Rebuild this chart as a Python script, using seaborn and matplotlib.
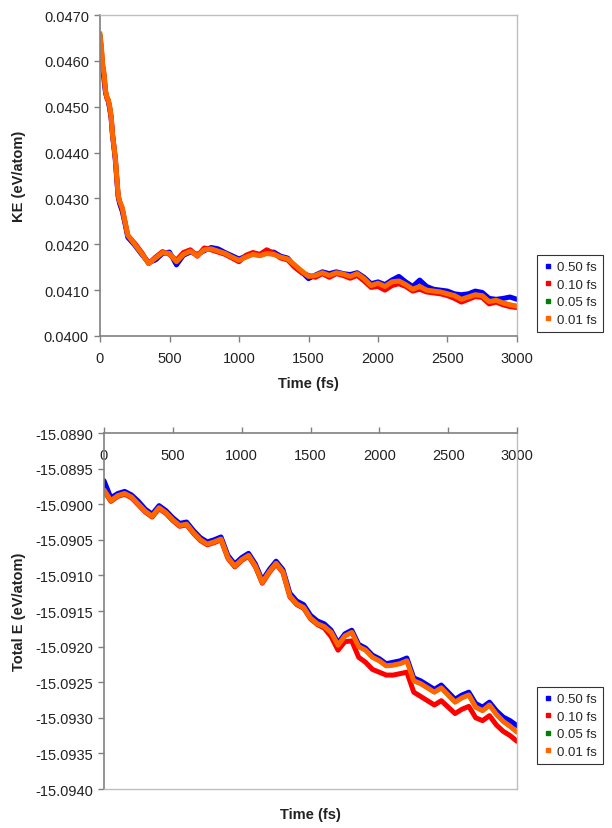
import matplotlib
matplotlib.use("Agg")
import matplotlib.pyplot as plt
import pandas as pd
import seaborn as sns
from matplotlib.lines import Line2D
from matplotlib.ticker import FormatStrFormatter, MultipleLocator

# ---------------- data ----------------
series_labels = ["0.50 fs", "0.10 fs", "0.05 fs", "0.01 fs"]
series_colors = ["#0000FF", "#FF0000", "#008000", "#FF6600"]

x_ticks = [0, 500, 1000, 1500, 2000, 2500, 3000]

ke_time = [0, 10, 20, 30, 40, 50, 60, 70, 80, 90, 100, 110, 120, 130, 140, 160, 180, 200,
           250, 300, 350, 400, 450, 500, 550, 600, 650, 700, 750, 800, 850, 900, 950, 1000,
           1050, 1100, 1150, 1200, 1250, 1300, 1350, 1400, 1450, 1500, 1550, 1600, 1650, 1700,
           1750, 1800, 1850, 1900, 1950, 2000, 2050, 2100, 2150, 2200, 2250, 2300, 2350, 2400,
           2450, 2500, 2550, 2600, 2650, 2700, 2750, 2800, 2850, 2900, 2950, 3000]

ke_050 = [0.04600, 0.04600, 0.04585, 0.04555, 0.04530, 0.04520, 0.04512, 0.04495, 0.04475, 0.04438,
          0.04412, 0.04385, 0.04345, 0.04305, 0.04290, 0.04272, 0.04245, 0.04215,
          0.04198, 0.04178, 0.04160, 0.04166, 0.04180, 0.04183, 0.04155, 0.04176, 0.04183, 0.04178,
          0.04186, 0.04193, 0.04190, 0.04182, 0.04175, 0.04168, 0.04174, 0.04180, 0.04177, 0.04182,
          0.04183, 0.04174, 0.04170, 0.04152, 0.04140, 0.04125, 0.04133, 0.04140, 0.04136, 0.04140,
          0.04136, 0.04134, 0.04138, 0.04128, 0.04114, 0.04118, 0.04112, 0.04122, 0.04130, 0.04118,
          0.04108, 0.04122, 0.04108, 0.04102, 0.04100, 0.04098, 0.04092, 0.04090, 0.04092, 0.04098,
          0.04095, 0.04082, 0.04080, 0.04082, 0.04085, 0.04080]

ke_010 = [0.04655, 0.04625, 0.04588, 0.04568, 0.04533, 0.04518, 0.04513, 0.04498, 0.04478, 0.04440,
          0.04414, 0.04388, 0.04348, 0.04308, 0.04294, 0.04278, 0.04248, 0.04219,
          0.04202, 0.04182, 0.04158, 0.04172, 0.04184, 0.04178, 0.04165, 0.04182, 0.04188, 0.04174,
          0.04192, 0.04188, 0.04183, 0.04178, 0.04170, 0.04162, 0.04176, 0.04182, 0.04178, 0.04188,
          0.04180, 0.04170, 0.04166, 0.04150, 0.04138, 0.04132, 0.04128, 0.04136, 0.04128, 0.04136,
          0.04132, 0.04126, 0.04132, 0.04120, 0.04106, 0.04108, 0.04100, 0.04110, 0.04114, 0.04108,
          0.04098, 0.04102, 0.04096, 0.04094, 0.04092, 0.04088, 0.04082, 0.04074, 0.04080, 0.04086,
          0.04084, 0.04070, 0.04074, 0.04068, 0.04064, 0.04062]

ke_005 = [0.04660, 0.04630, 0.04590, 0.04570, 0.04535, 0.04520, 0.04515, 0.04500, 0.04480, 0.04440,
          0.04415, 0.04390, 0.04350, 0.04310, 0.04295, 0.04280, 0.04250, 0.04220,
          0.04200, 0.04180, 0.04158, 0.04170, 0.04182, 0.04180, 0.04162, 0.04178, 0.04185, 0.04175,
          0.04188, 0.04190, 0.04185, 0.04180, 0.04172, 0.04165, 0.04172, 0.04178, 0.04175, 0.04180,
          0.04178, 0.04172, 0.04168, 0.04155, 0.04142, 0.04130, 0.04132, 0.04138, 0.04132, 0.04138,
          0.04135, 0.04130, 0.04136, 0.04125, 0.04110, 0.04115, 0.04108, 0.04118, 0.04120, 0.04112,
          0.04102, 0.04108, 0.04100, 0.04098, 0.04096, 0.04092, 0.04088, 0.04080, 0.04085, 0.04090,
          0.04088, 0.04075, 0.04078, 0.04072, 0.04068, 0.04065]

ke_001 = [0.04660, 0.04630, 0.04590, 0.04570, 0.04535, 0.04520, 0.04515, 0.04500, 0.04480, 0.04440,
          0.04415, 0.04390, 0.04350, 0.04310, 0.04295, 0.04280, 0.04250, 0.04220,
          0.04200, 0.04180, 0.04158, 0.04170, 0.04182, 0.04180, 0.04162, 0.04178, 0.04185, 0.04175,
          0.04188, 0.04190, 0.04185, 0.04180, 0.04172, 0.04165, 0.04172, 0.04178, 0.04175, 0.04180,
          0.04178, 0.04172, 0.04168, 0.04155, 0.04142, 0.04130, 0.04132, 0.04138, 0.04132, 0.04138,
          0.04135, 0.04130, 0.04136, 0.04125, 0.04110, 0.04115, 0.04108, 0.04118, 0.04120, 0.04112,
          0.04102, 0.04108, 0.04100, 0.04098, 0.04096, 0.04092, 0.04088, 0.04080, 0.04085, 0.04090,
          0.04088, 0.04075, 0.04078, 0.04072, 0.04068, 0.04065]

te_time = [0, 50, 100, 150, 200, 250, 300, 350, 400, 450, 500, 550, 600, 650, 700, 750, 800,
           850, 900, 950, 1000, 1050, 1100, 1150, 1200, 1250, 1300, 1350, 1400, 1450, 1500,
           1550, 1600, 1650, 1700, 1750, 1800, 1850, 1900, 1950, 2000, 2050, 2100, 2150, 2200,
           2250, 2300, 2350, 2400, 2450, 2500, 2550, 2600, 2650, 2700, 2750, 2800, 2850, 2900,
           2950, 3000]

te_050 = [-15.08967, -15.08991, -15.08985, -15.08982, -15.08987, -15.08996, -15.09007, -15.09014,
          -15.09002, -15.09009, -15.09019, -15.09027, -15.09025, -15.09037, -15.09047, -15.09053,
          -15.09050, -15.09046, -15.09072, -15.09084, -15.09075, -15.09069, -15.09084, -15.09107,
          -15.09092, -15.09080, -15.09092, -15.09125, -15.09136, -15.09141, -15.09156, -15.09164,
          -15.09168, -15.09177, -15.09195, -15.09182, -15.09177, -15.09197, -15.09202, -15.09212,
          -15.09217, -15.09224, -15.09222, -15.09220, -15.09216, -15.09244, -15.09248, -15.09254,
          -15.09260, -15.09254, -15.09264, -15.09274, -15.09268, -15.09264, -15.09280, -15.09285,
          -15.09278, -15.09290, -15.09299, -15.09304, -15.09311]

te_010 = [-15.08981, -15.08996, -15.08989, -15.08986, -15.08991, -15.09001, -15.09011, -15.09018,
          -15.09006, -15.09013, -15.09023, -15.09031, -15.09029, -15.09041, -15.09051, -15.09057,
          -15.09054, -15.09050, -15.09076, -15.09088, -15.09079, -15.09073, -15.09088, -15.09111,
          -15.09096, -15.09084, -15.09096, -15.09130, -15.09141, -15.09146, -15.09161, -15.09169,
          -15.09174, -15.09186, -15.09205, -15.09193, -15.09192, -15.09215, -15.09222, -15.09232,
          -15.09236, -15.09240, -15.09240, -15.09238, -15.09236, -15.09264, -15.09270, -15.09276,
          -15.09282, -15.09276, -15.09285, -15.09294, -15.09288, -15.09284, -15.09300, -15.09304,
          -15.09297, -15.09310, -15.09319, -15.09325, -15.09333]

te_005 = [-15.08980, -15.08995, -15.08988, -15.08985, -15.08990, -15.09000, -15.09010, -15.09017,
          -15.09005, -15.09012, -15.09022, -15.09030, -15.09028, -15.09040, -15.09050, -15.09056,
          -15.09053, -15.09049, -15.09075, -15.09087, -15.09078, -15.09072, -15.09087, -15.09110,
          -15.09095, -15.09083, -15.09095, -15.09129, -15.09140, -15.09145, -15.09160, -15.09168,
          -15.09172, -15.09180, -15.09198, -15.09185, -15.09180, -15.09200, -15.09205, -15.09215,
          -15.09220, -15.09227, -15.09226, -15.09224, -15.09220, -15.09248, -15.09252, -15.09258,
          -15.09264, -15.09258, -15.09268, -15.09278, -15.09272, -15.09268, -15.09285, -15.09290,
          -15.09282, -15.09295, -15.09305, -15.09312, -15.09320]

te_001 = [-15.08980, -15.08995, -15.08988, -15.08985, -15.08990, -15.09000, -15.09010, -15.09017,
          -15.09005, -15.09012, -15.09022, -15.09030, -15.09028, -15.09040, -15.09050, -15.09056,
          -15.09053, -15.09049, -15.09075, -15.09087, -15.09078, -15.09072, -15.09087, -15.09110,
          -15.09095, -15.09083, -15.09095, -15.09129, -15.09140, -15.09145, -15.09160, -15.09168,
          -15.09172, -15.09180, -15.09198, -15.09185, -15.09180, -15.09200, -15.09205, -15.09215,
          -15.09220, -15.09227, -15.09226, -15.09224, -15.09220, -15.09248, -15.09252, -15.09258,
          -15.09264, -15.09258, -15.09268, -15.09278, -15.09272, -15.09268, -15.09285, -15.09290,
          -15.09282, -15.09295, -15.09305, -15.09312, -15.09320]


def long_frame(t, cols):
    parts = []
    for lab, vals in zip(series_labels, cols):
        parts.append(pd.DataFrame({"time": t, "value": vals, "series": lab}))
    return pd.concat(parts, ignore_index=True)


ke_df = long_frame(ke_time, [ke_050, ke_010, ke_005, ke_001])
te_df = long_frame(te_time, [te_050, te_010, te_005, te_001])
palette = dict(zip(series_labels, series_colors))
widths = {"0.50 fs": 3.6, "0.10 fs": 3.6, "0.05 fs": 3.0, "0.01 fs": 3.6}

# ---------------- style ----------------
sns.set_theme(style="white")
plt.rcParams["font.family"] = ["Liberation Sans", "DejaVu Sans"]
plt.rcParams["axes.unicode_minus"] = False

AXIS_C = "#808080"
BORDER_C = "#BEBEBE"
TEXT_C = "#222222"
FS = 10.5

fig = plt.figure(figsize=(6.12, 8.29), dpi=100)
ax1 = fig.add_axes([100 / 612, 1 - 337 / 829, 417 / 612, 321 / 829])
ax2 = fig.add_axes([104 / 612, 1 - 790 / 829, 413 / 612, 356 / 829])

for ax, df in ((ax1, ke_df), (ax2, te_df)):
    for lab in series_labels:
        sub = df[df["series"] == lab]
        sns.lineplot(data=sub, x="time", y="value", color=palette[lab], sort=False,
                     estimator=None, linewidth=widths[lab], legend=False, ax=ax)
    ax.set_xlim(0, 3000)
    ax.set_xticks(x_ticks)
    ax.yaxis.set_major_formatter(FormatStrFormatter("%.4f"))
    ax.tick_params(axis="both", labelsize=FS, colors=AXIS_C, labelcolor=TEXT_C,
                   length=4, width=1, direction="out")
    ax.grid(False)

# top chart
ax1.set_ylim(0.0400, 0.0470)
ax1.yaxis.set_major_locator(MultipleLocator(0.001))
ax1.tick_params(axis="x", pad=7, bottom=True)
ax1.tick_params(axis="y", pad=4, left=True)
for s in ("left", "bottom"):
    ax1.spines[s].set_color(AXIS_C)
    ax1.spines[s].set_linewidth(1.2)
for s in ("top", "right"):
    ax1.spines[s].set_color(BORDER_C)
    ax1.spines[s].set_linewidth(1.0)
ax1.set_xlabel("Time (fs)", fontsize=FS, fontweight="bold", color=TEXT_C)
ax1.set_ylabel("KE (eV/atom)", fontsize=FS, fontweight="bold", color=TEXT_C)
ax1.xaxis.set_label_coords(0.5, -0.125)
ax1.yaxis.set_label_coords(-0.178, 0.5)

# bottom chart
ax2.set_ylim(-15.0940, -15.0890)
ax2.yaxis.set_major_locator(MultipleLocator(0.0005))
ax2.xaxis.tick_top()
ax2.tick_params(axis="x", top=True, bottom=False, labeltop=True, labelbottom=False, pad=-25)
ax2.tick_params(axis="y", pad=4, left=True)
for s in ("left", "top"):
    ax2.spines[s].set_color(AXIS_C)
    ax2.spines[s].set_linewidth(1.2)
for s in ("bottom", "right"):
    ax2.spines[s].set_color(BORDER_C)
    ax2.spines[s].set_linewidth(1.0)
ax2.xaxis.set_label_position("bottom")
ax2.set_xlabel("Time (fs)", fontsize=FS, fontweight="bold", color=TEXT_C)
ax2.set_ylabel("Total E (eV/atom)", fontsize=FS, fontweight="bold", color=TEXT_C)
ax2.xaxis.set_label_coords(0.5, -0.05)
ax2.yaxis.set_label_coords(-0.19, 0.5)

# legends
handles = [Line2D([], [], linestyle="", marker="s", markersize=3.2, color=c) for c in series_colors]
for top in (1 - 256 / 829, 1 - 688 / 829):
    leg = fig.legend(handles, series_labels, loc="upper left", bbox_to_anchor=(537 / 612, top),
                     frameon=True, fancybox=False, edgecolor="#000000", fontsize=9.5,
                     handlelength=0.7, handletextpad=0.35, borderpad=0.45, labelspacing=0.4,
                     borderaxespad=0)
    leg.get_frame().set_linewidth(0.8)

fig.savefig("out.png", dpi=100, facecolor="white")
